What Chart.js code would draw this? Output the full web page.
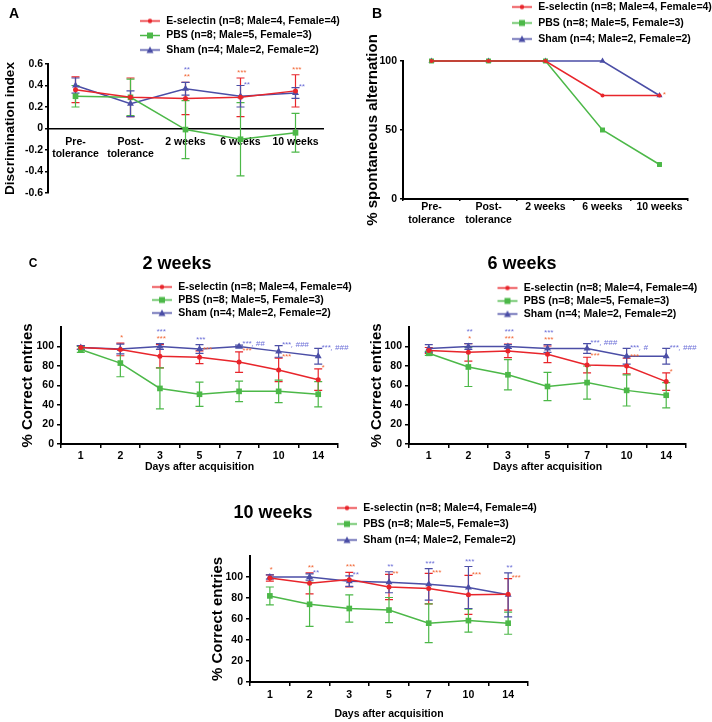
<!DOCTYPE html>
<html>
<head>
<meta charset="utf-8">
<script src="https://cdn.jsdelivr.net/npm/chart.js@4.4.0/dist/chart.umd.min.js"></script>
<style>
  body { margin: 0; background: #fff; font-family: "Liberation Sans", Arial, sans-serif; }
  #page { position: relative; width: 712px; height: 722px; overflow: hidden; }
  canvas { position: absolute; }
  .lbl { position: absolute; font-weight: bold; color: #000; white-space: nowrap; transform: translate(-50%, -50%); }
</style>
</head>
<body>
<div id="page">
  <canvas id="cA" width="360" height="210" style="left:0;top:0"></canvas>
  <canvas id="cB" width="352" height="230" style="left:360px;top:0"></canvas>
  <canvas id="c2" width="360" height="245" style="left:0;top:230px"></canvas>
  <canvas id="c6" width="352" height="245" style="left:360px;top:230px"></canvas>
  <canvas id="c10" width="400" height="242" style="left:160px;top:480px"></canvas>
  <div class="lbl" style="left:14px;top:13px;font-size:14px">A</div>
  <div class="lbl" style="left:377px;top:13px;font-size:14px">B</div>
  <div class="lbl" style="left:33px;top:263px;font-size:12px">C</div>
  <div class="lbl" style="left:177px;top:263px;font-size:18px">2 weeks</div>
  <div class="lbl" style="left:522px;top:263px;font-size:18px">6 weeks</div>
  <div class="lbl" style="left:273px;top:512px;font-size:18px">10 weeks</div>
</div>
<script>
// ---- data ----
const groups = ['E-selectin (n=8; Male=4, Female=4)', 'PBS (n=8; Male=5, Female=3)', 'Sham (n=4; Male=2, Female=2)'];
const phases = [['Pre-', 'tolerance'], ['Post-', 'tolerance'], '2 weeks', '6 weeks', '10 weeks'];
const days = ['1', '2', '3', '5', '7', '10', '14'];

// A: discrimination index (mean, error)
const discEsel = [0.36, 0.29, 0.28, 0.29, 0.35];
const discEselErr = [0.12, 0.18, 0.15, 0.18, 0.15];
const discPbs = [0.30, 0.29, -0.01, -0.10, -0.04];
const discPbsErr = [0.10, 0.17, 0.27, 0.34, 0.18];
const discSham = [0.40, 0.23, 0.37, 0.30, 0.33];
const discShamErr = [0.07, 0.12, 0.06, 0.10, 0.05];
const discEselSig = ['', '', '**', '***', '***'];
const discShamSig = ['', '', '**', '**', '**'];

// B: % spontaneous alternation
const altEsel = [100, 100, 100, 75, 75];
const altPbs = [100, 100, 100, 50, 25];
const altSham = [100, 100, 100, 100, 75];
const altEselSig = ['', '', '', '', '*'];

// C: % correct entries, 2 weeks
const wk2Esel = [99, 97, 90, 89, 84, 76, 66];
const wk2EselErr = [2, 6.5, 12, 6.5, 10.5, 12, 11];
const wk2Pbs = [97, 83, 57, 51, 54, 54, 51];
const wk2PbsErr = [3, 14, 21, 12.5, 10.5, 11.5, 13];
const wk2Sham = [99, 97.5, 100, 97.5, 100, 95, 90];
const wk2ShamErr = [2, 5, 3, 4.5, 1.5, 6, 8];
const wk2EselSig = ['', '*', '***', '***', '***', '***', '*'];
const wk2ShamSig = ['', '', '***', '***', '***, ##', '***, ###', '***, ###'];

// C: 6 weeks
const wk6Esel = [96, 94, 95.5, 92, 81, 80, 64];
const wk6EselErr = [3, 9, 7, 8.5, 8, 8, 9];
const wk6Pbs = [93, 79, 71, 59, 63, 55, 50];
const wk6PbsErr = [2, 20, 15.5, 14.5, 17, 16, 13];
const wk6Sham = [98, 100, 100, 98, 98, 90, 90];
const wk6ShamErr = [4, 3, 2, 4, 5, 8, 8];
const wk6EselSig = ['', '*', '***', '***', '***', '***', '*'];
const wk6ShamSig = ['', '**', '***', '***', '***, ###', '***, #', '***, ###'];

// C: 10 weeks
const wk10Esel = [99, 94, 97.5, 90.5, 89, 83, 83.5];
const wk10EselErr = [3, 10, 7, 12, 14.5, 18.5, 15];
const wk10Pbs = [82, 74, 70, 68.5, 56, 58.5, 56];
const wk10PbsErr = [8.5, 21, 13, 12, 18.5, 11, 10.5];
const wk10Sham = [100, 100, 96, 95, 93, 90, 83];
const wk10ShamErr = [2, 3, 5, 10, 15, 20, 21];
const wk10EselSig = ['*', '**', '***', '**', '***', '***', '***'];
const wk10ShamSig = ['', '**', '**', '**', '***', '***', '**'];

// where the significance marks sit: 't' above the bars, 'r' beside the bar top
const sideA = { esel: ['t', 't', 't', 't', 't'], sham: ['t', 't', 't', 'r', 'r'] };
const sideB = { esel: ['r', 'r', 'r', 'r', 'r'] };
const side2 = { esel: ['t', 't', 't', 'r', 'r', 'r', 'r'], sham: ['t', 't', 't', 't', 'r', 'r', 'r'] };
const side6 = { esel: ['t', 't', 't', 't', 'r', 'r', 'r'], sham: ['t', 't', 't', 't', 'r', 'r', 'r'] };
const side10 = { esel: ['t', 't', 't', 'r', 'r', 'r', 'r'], sham: ['t', 'r', 'r', 't', 't', 't', 't'] };

// ---- styles ----
const RED = '#e8252b', GREEN = '#4cb848', BLUE = '#4b4ea6';
const RED_SIG = '#f26a3a', BLUE_SIG = '#6d70d8';
const FONT = '"Liberation Sans", Arial, sans-serif';
Chart.defaults.font.family = FONT;
Chart.defaults.color = '#000';

function icon(color, shape) {
  const c = document.createElement('canvas');
  c.width = 22; c.height = 9;
  const g = c.getContext('2d');
  g.strokeStyle = color; g.fillStyle = color; g.lineWidth = 1.5;
  g.beginPath(); g.moveTo(1, 4.5); g.lineTo(21, 4.5); g.stroke();
  g.beginPath();
  if (shape === 'circle') g.arc(11, 4.5, 2.2, 0, Math.PI * 2);
  else if (shape === 'rect') g.rect(8, 1.5, 6, 6);
  else { g.moveTo(11, 1); g.lineTo(14.5, 7.5); g.lineTo(7.5, 7.5); g.closePath(); }
  g.fill();
  return c;
}
const icons = [icon(RED, 'circle'), icon(GREEN, 'rect'), icon(BLUE, 'triangle')];

// error bars under the lines
const errorBars = {
  id: 'errorBars',
  beforeDatasetsDraw(chart) {
    const ctx = chart.ctx, y = chart.scales.y;
    chart.data.datasets.forEach((ds, i) => {
      if (!ds.errors) return;
      const meta = chart.getDatasetMeta(i);
      ctx.save();
      ctx.strokeStyle = ds.borderColor;
      ctx.lineWidth = 1.2;
      meta.data.forEach((pt, j) => {
        const e = ds.errors[j];
        if (!e) return;
        const top = y.getPixelForValue(ds.data[j] + e);
        const bot = y.getPixelForValue(ds.data[j] - e);
        ctx.beginPath();
        ctx.moveTo(pt.x, top); ctx.lineTo(pt.x, bot);
        ctx.moveTo(pt.x - 4, top); ctx.lineTo(pt.x + 4, top);
        ctx.moveTo(pt.x - 4, bot); ctx.lineTo(pt.x + 4, bot);
        ctx.stroke();
      });
      ctx.restore();
    });
  }
};

// asterisks / hashes
const sigMarks = {
  id: 'sigMarks',
  afterDatasetsDraw(chart) {
    const ctx = chart.ctx, y = chart.scales.y;
    const sets = chart.data.datasets;
    const rank = {};
    const capOf = (d, j) => d.data[j] + (d.errors ? d.errors[j] : 0);
    sets.forEach((ds, i) => {
      if (!ds.sig) return;
      const meta = chart.getDatasetMeta(i);
      ctx.save();
      ctx.font = 'italic 8px ' + FONT;
      ctx.fillStyle = ds.sigColor;
      ctx.textBaseline = 'bottom';
      ds.sig.forEach((txt, j) => {
        if (!txt) return;
        const x = meta.data[j].x;
        if (ds.sigSide[j] === 'r') {
          ctx.textAlign = 'left';
          ctx.fillText(txt, x + 3, y.getPixelForValue(capOf(ds, j)) + 3);
        } else {
          let cap = Infinity;
          sets.forEach(d => { cap = Math.min(cap, y.getPixelForValue(capOf(d, j))); });
          const k = rank[j] || 0;
          rank[j] = k + 1;
          ctx.textAlign = 'center';
          ctx.fillText(txt, x + 1, cap - 1 - k * 7);
        }
      });
      ctx.restore();
    });
  }
};

// put the legend column at a fixed spot above the plot
const legendSpot = {
  id: 'legendSpot',
  afterLayout(chart, args, opts) {
    const lg = chart.legend;
    lg.left = opts.x - opts.pad;
    lg.top = opts.y - opts.pad - opts.fs / 2;
    lg.right = chart.width;
    lg.bottom = chart.height;
    lg.width = lg.right - lg.left;
    lg.height = lg.bottom - lg.top;
  }
};

function series(idx, data, errors, sig, side, small) {
  const colors = [RED, GREEN, BLUE];
  const shapes = ['circle', 'rect', 'triangle'];
  const radii = small ? [2, 3.5, 3.5] : [2.5, 4, 4];
  return {
    label: groups[idx], data: data, errors: errors, sig: sig, sigSide: side,
    sigColor: idx === 0 ? RED_SIG : BLUE_SIG,
    borderColor: colors[idx], backgroundColor: colors[idx],
    pointStyle: shapes[idx], pointRadius: radii[idx], pointBorderWidth: 0,
    borderWidth: 1.5, tension: 0, clip: false
  };
}

const bold = size => ({ size: size, weight: 'bold' });

function legendOpts(pad) {
  return {
    position: 'chartArea', align: 'start',
    labels: {
      usePointStyle: true, pointStyleWidth: 22, padding: pad, font: bold(10.5), color: '#000',
      generateLabels: chart => chart.data.datasets.map((ds, i) => ({
        text: ds.label, pointStyle: icons[i], fillStyle: ds.borderColor,
        strokeStyle: ds.borderColor, lineWidth: 0, hidden: false, datasetIndex: i, fontColor: '#000'
      }))
    }
  };
}

function yAxis(o) {
  return {
    min: o.min, max: o.max,
    ticks: { stepSize: o.step, font: bold(10.5), padding: o.tickPad, callback: o.fmt },
    grid: {
      drawOnChartArea: false, tickLength: o.tickLen, lineWidth: 1.5,
      color: c => (c.tick && c.tick.value > o.lastTick) ? 'rgba(0,0,0,0)' : '#000'
    },
    border: { color: '#000', width: 2 },
    title: { display: true, text: o.title, font: bold(o.titleSize), padding: { top: o.titlePad, bottom: 0 } },
    afterFit: s => { s.width = o.width; }
  };
}

function make(id, o) {
  return new Chart(document.getElementById(id), {
    type: 'line',
    data: { labels: o.labels, datasets: o.datasets },
    options: {
      responsive: false, animation: false, events: [],
      layout: { padding: o.pad },
      plugins: {
        legend: legendOpts(o.legend.pad),
        tooltip: { enabled: false },
        legendSpot: { x: o.legend.x, y: o.legend.y, pad: o.legend.pad, fs: 10.5 }
      },
      scales: { x: o.x, y: o.y }
    },
    plugins: [errorBars, sigMarks, legendSpot]
  });
}

// ---- A ----
make('cA', {
  labels: phases,
  datasets: [
    series(0, discEsel, discEselErr, discEselSig, sideA.esel),
    series(1, discPbs, discPbsErr, null, null),
    series(2, discSham, discShamErr, discShamSig, sideA.sham)
  ],
  pad: { top: 64, right: 37, bottom: 17, left: 0 },
  legend: { x: 139, y: 21, pad: 4 },
  x: {
    position: { y: 0 }, offset: true,
    ticks: { font: bold(10.5), padding: 7, maxRotation: 0, autoSkip: false },
    grid: { display: false, drawTicks: false },
    border: { display: true, color: '#000', width: 1.5 },
    afterFit: s => { s.height = 0; }
  },
  y: yAxis({
    min: -0.6, max: 0.6, step: 0.2, tickPad: 2, tickLen: 3, lastTick: 1,
    fmt: v => (Math.abs(v) < 1e-9 ? '0' : v.toFixed(1)),
    title: 'Discrimination index', titleSize: 13.5, titlePad: 2, width: 48
  })
});

// ---- B ----
make('cB', {
  labels: phases,
  datasets: [
    series(0, altEsel, null, altEselSig, sideB.esel, true),
    series(1, altPbs, null, null, null, true),
    series(2, altSham, null, null, null, true)
  ],
  pad: { top: 61, right: 24, bottom: 0, left: 0 },
  legend: { x: 151, y: 7, pad: 5.5 },
  x: {
    offset: true,
    ticks: { font: bold(10.5), padding: 0, maxRotation: 0, autoSkip: false },
    grid: { offset: true, drawOnChartArea: false, tickLength: 2, color: '#000', lineWidth: 1.5 },
    border: { color: '#000', width: 2 },
    afterFit: s => { s.height = 31; }
  },
  y: yAxis({
    min: 0, max: 100, step: 50, tickPad: 3, tickLen: 3, lastTick: 100,
    title: '% spontaneous alternation', titleSize: 15, titlePad: 4, width: 43
  })
});

// ---- C ----
function dayAxis(height, pad) {
  return {
    offset: true,
    ticks: { font: bold(10.5), padding: pad, maxRotation: 0, autoSkip: false },
    grid: { offset: true, drawOnChartArea: false, tickLength: 4, color: '#000', lineWidth: 1.5 },
    border: { color: '#000', width: 2 },
    title: { display: true, text: 'Days after acquisition', font: bold(10.5), padding: { top: 0, bottom: 2 } },
    afterFit: s => { s.height = height; }
  };
}
function entriesAxis(width, titlePad) {
  return yAxis({
    min: 0, max: 120, step: 20, tickPad: 3, tickLen: 4, lastTick: 100,
    fmt: v => (v > 100 ? '' : v),
    title: '% Correct entries', titleSize: 15, titlePad: titlePad, width: width
  });
}

make('c2', {
  labels: days,
  datasets: [
    series(0, wk2Esel, wk2EselErr, wk2EselSig, side2.esel),
    series(1, wk2Pbs, wk2PbsErr, null, null),
    series(2, wk2Sham, wk2ShamErr, wk2ShamSig, side2.sham)
  ],
  pad: { top: 97, right: 22, bottom: 0, left: 0 },
  legend: { x: 151, y: 57, pad: 2.5 },
  x: dayAxis(31, 2),
  y: entriesAxis(61, 19)
});

make('c6', {
  labels: days,
  datasets: [
    series(0, wk6Esel, wk6EselErr, wk6EselSig, side6.esel),
    series(1, wk6Pbs, wk6PbsErr, null, null),
    series(2, wk6Sham, wk6ShamErr, wk6ShamSig, side6.sham)
  ],
  pad: { top: 97, right: 26, bottom: 0, left: 0 },
  legend: { x: 136.5, y: 58, pad: 2.5 },
  x: dayAxis(31, 2),
  y: entriesAxis(49, 8)
});

make('c10', {
  labels: days,
  datasets: [
    series(0, wk10Esel, wk10EselErr, wk10EselSig, side10.esel),
    series(1, wk10Pbs, wk10PbsErr, null, null),
    series(2, wk10Sham, wk10ShamErr, wk10ShamSig, side10.sham)
  ],
  pad: { top: 76, right: 32, bottom: 0, left: 0 },
  legend: { x: 176, y: 28, pad: 5.5 },
  x: dayAxis(40, 3),
  y: entriesAxis(90, 49)
});
</script>
</body>
</html>
